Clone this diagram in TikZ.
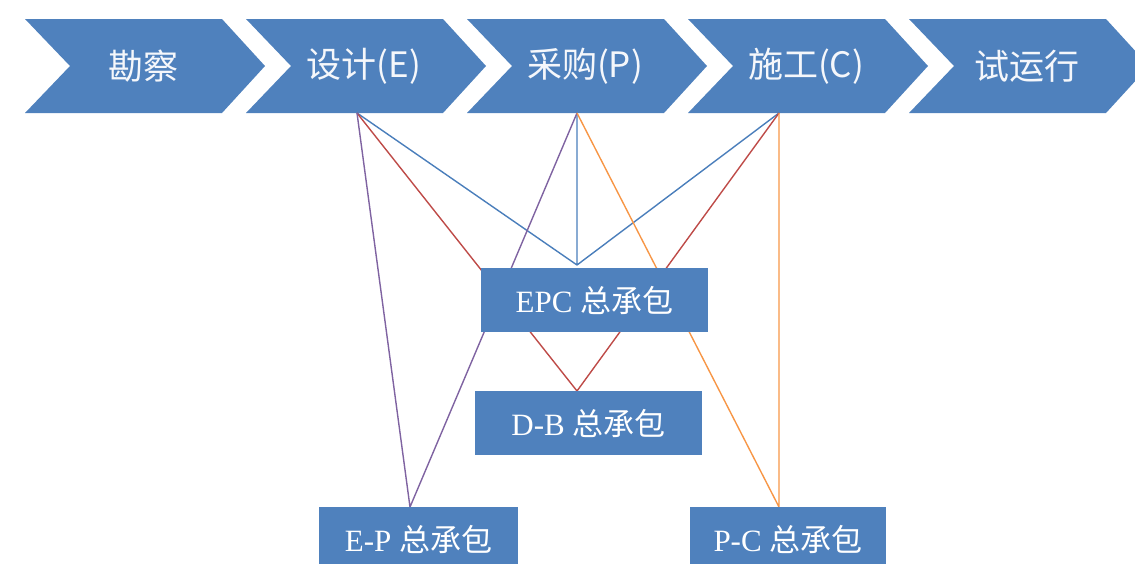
\documentclass[tikz,border=0pt]{standalone}
\usepackage{fontspec}
\setmainfont{Liberation Serif}
\newfontfamily\cjk{Noto Sans CJK SC}
\definecolor{officeblue}{HTML}{4F81BD}
\definecolor{lineblue}{HTML}{4A7EBB}
\definecolor{linered}{HTML}{BE4B48}
\definecolor{linepurple}{HTML}{7F63A1}
\definecolor{lineorange}{HTML}{F79646}
\begin{document}
\begin{tikzpicture}[x=1pt,y=-1pt,
  stagetext/.style={text=white!94!officeblue, font=\cjk\fontsize{35}{40}\selectfont, inner sep=0pt},
  pkg/.style={fill=officeblue, text=white, inner sep=0pt, minimum height=64pt, font=\fontsize{31}{36}\selectfont},
  link/.style={line width=1.4pt}]
\useasboundingbox (0,0) rectangle (1135,563);
\clip (0,0) rectangle (1135,563);
% process chevrons
\foreach \i/\t in {0/勘察,1/设计(E),2/采购(P),3/施工(C),4/试运行}{
  \pgfmathsetmacro\xo{25+221*\i}
  \fill[officeblue] (\xo,19) -- (\xo+197,19) -- (\xo+240,66) -- (\xo+197,113) -- (\xo,113) -- (\xo+45,66) -- cycle;
  \node[stagetext] (s\i) at (\xo+118,66) {\t};
}
% connection points
\coordinate (E) at (357,113);
\coordinate (P) at (577,113);
\coordinate (C) at (779,113);
\coordinate (epcTop) at (577,265);
\coordinate (dbTop) at (577,391);
\coordinate (epTop) at (410,507);
\coordinate (pcTop) at (779,507);
% connectors
\draw[link, lineblue] (E) -- (epcTop) (P) -- (epcTop) (C) -- (epcTop);
\draw[link, linered] (E) -- (dbTop) (C) -- (dbTop);
\draw[link, linepurple] (E) -- (epTop) (P) -- (epTop);
\draw[link, lineorange] (P) -- (pcTop) (C) -- (pcTop);
% packages
\node[pkg, minimum width=227pt] (epc) at (594.5,300) {EPC \cjk 总承包};
\node[pkg, minimum width=227pt] (db) at (588.5,423) {D-B \cjk 总承包};
\node[pkg, minimum width=199pt] (ep) at (418.5,539) {E-P \cjk 总承包};
\node[pkg, minimum width=196pt] (pc) at (788,539) {P-C \cjk 总承包};
\end{tikzpicture}
\end{document}
